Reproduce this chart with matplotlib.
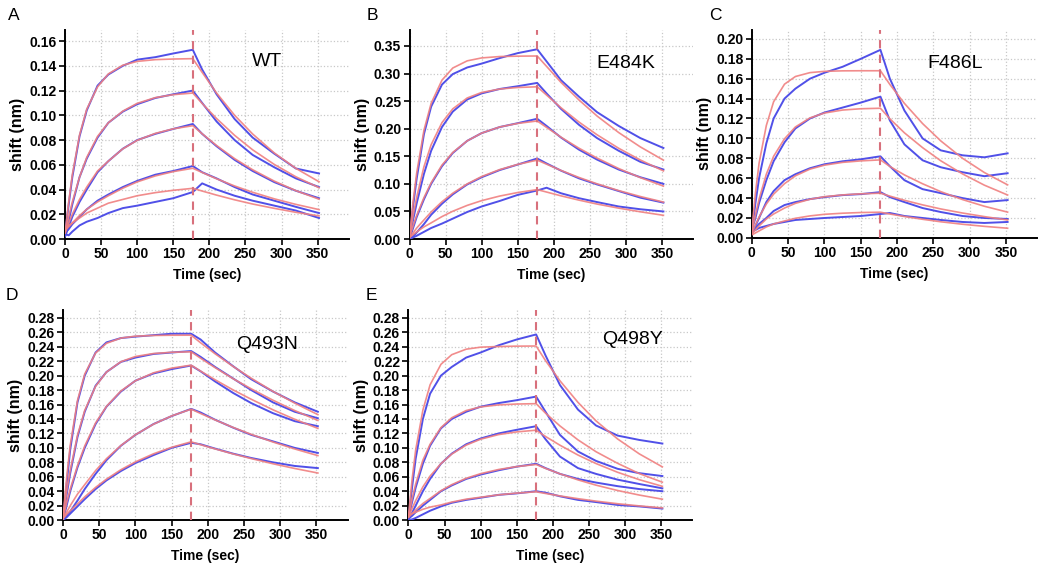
import matplotlib
matplotlib.use('Agg')
import matplotlib.pyplot as plt

plt.rcParams['font.family'] = ['Liberation Sans', 'DejaVu Sans']

# sample times (sec), association ends at 177 s
T = [0, 5, 10, 20, 30, 45, 60, 80, 100, 125, 150, 177, 190, 210, 235, 260, 290, 320, 352]
T_SWITCH = 177

# ---- A: WT
A_BLUE = [
    [0.005, 0.028, 0.050, 0.083, 0.104, 0.124, 0.133, 0.140, 0.145, 0.147, 0.150, 0.153, 0.137, 0.117, 0.097, 0.082, 0.069, 0.057, 0.053],
    [0.003, 0.015, 0.028, 0.050, 0.065, 0.082, 0.094, 0.103, 0.109, 0.114, 0.117, 0.120, 0.110, 0.095, 0.080, 0.068, 0.058, 0.049, 0.042],
    [0.002, 0.010, 0.018, 0.030, 0.040, 0.054, 0.063, 0.073, 0.080, 0.085, 0.089, 0.093, 0.085, 0.075, 0.064, 0.055, 0.046, 0.039, 0.033],
    [0.005, 0.008, 0.012, 0.018, 0.024, 0.031, 0.036, 0.042, 0.047, 0.052, 0.055, 0.059, 0.054, 0.049, 0.042, 0.036, 0.031, 0.026, 0.021],
    [0.004, 0.003, 0.006, 0.011, 0.014, 0.017, 0.021, 0.025, 0.027, 0.030, 0.033, 0.038, 0.045, 0.040, 0.035, 0.031, 0.027, 0.023, 0.017],
]
A_FIT = [
    [0.005, 0.030, 0.052, 0.084, 0.105, 0.123, 0.1335, 0.1405, 0.1436, 0.145, 0.1455, 0.1458, 0.1347, 0.118, 0.100, 0.0849, 0.0696, 0.0571, 0.0463],
    [0.005, 0.018, 0.030, 0.050, 0.066, 0.083, 0.094, 0.1034, 0.1097, 0.1143, 0.1167, 0.118, 0.1096, 0.0974, 0.0838, 0.0721, 0.0603, 0.0503, 0.0415],
    [0.005, 0.013, 0.020, 0.032, 0.042, 0.055, 0.063, 0.0729, 0.0798, 0.0854, 0.0891, 0.0916, 0.0851, 0.0756, 0.065, 0.056, 0.0468, 0.0391, 0.0322],
    [0.007, 0.010, 0.013, 0.019, 0.024, 0.030, 0.035, 0.0411, 0.0462, 0.051, 0.0545, 0.0572, 0.0538, 0.0487, 0.0429, 0.0378, 0.0325, 0.028, 0.0238],
    [0.008, 0.011, 0.013, 0.017, 0.021, 0.025, 0.029, 0.032, 0.035, 0.0375, 0.0394, 0.041, 0.0388, 0.0355, 0.0317, 0.0283, 0.0248, 0.0216, 0.0187],
]

# ---- B: E484K
B_BLUE = [
    [0.000, 0.060, 0.110, 0.190, 0.240, 0.280, 0.299, 0.311, 0.318, 0.328, 0.337, 0.344, 0.322, 0.288, 0.258, 0.230, 0.205, 0.183, 0.165],
    [0.000, 0.035, 0.065, 0.118, 0.160, 0.203, 0.231, 0.253, 0.264, 0.272, 0.277, 0.283, 0.264, 0.236, 0.207, 0.183, 0.160, 0.140, 0.126],
    [0.000, 0.020, 0.040, 0.072, 0.100, 0.132, 0.156, 0.178, 0.192, 0.203, 0.210, 0.218, 0.205, 0.184, 0.162, 0.144, 0.126, 0.112, 0.100],
    [0.000, 0.005, 0.012, 0.027, 0.044, 0.064, 0.081, 0.099, 0.112, 0.125, 0.135, 0.146, 0.137, 0.124, 0.110, 0.099, 0.087, 0.075, 0.066],
    [0.000, 0.003, 0.006, 0.013, 0.020, 0.028, 0.037, 0.049, 0.059, 0.069, 0.080, 0.088, 0.093, 0.083, 0.074, 0.067, 0.059, 0.054, 0.050],
]
B_FIT = [
    [0.003, 0.068, 0.120, 0.197, 0.246, 0.288, 0.310, 0.323, 0.3283, 0.3308, 0.3315, 0.3318, 0.313, 0.284, 0.252, 0.223, 0.193, 0.167, 0.143],
    [0.003, 0.043, 0.076, 0.131, 0.171, 0.211, 0.236, 0.2557, 0.2657, 0.2719, 0.2747, 0.276, 0.261, 0.238, 0.212, 0.189, 0.1645, 0.1433, 0.1235],
    [0.003, 0.024, 0.043, 0.075, 0.102, 0.134, 0.157, 0.178, 0.192, 0.2031, 0.2096, 0.214, 0.2024, 0.1847, 0.1646, 0.1468, 0.1278, 0.1113, 0.096],
    [0.003, 0.011, 0.020, 0.0346, 0.049, 0.0676, 0.0831, 0.100, 0.1133, 0.1259, 0.1353, 0.143, 0.1357, 0.1244, 0.1116, 0.1001, 0.0878, 0.0771, 0.067],
    [0.003, 0.008, 0.013, 0.022, 0.0293, 0.0407, 0.0504, 0.061, 0.0696, 0.0779, 0.0843, 0.0896, 0.0852, 0.0783, 0.0705, 0.0634, 0.056, 0.0494, 0.043],
]

# ---- C: F486L
C_BLUE = [
    [0.005, 0.035, 0.060, 0.095, 0.120, 0.140, 0.150, 0.160, 0.166, 0.172, 0.180, 0.189, 0.160, 0.128, 0.100, 0.088, 0.083, 0.081, 0.085],
    [0.008, 0.020, 0.035, 0.058, 0.077, 0.096, 0.110, 0.120, 0.126, 0.131, 0.136, 0.142, 0.118, 0.094, 0.078, 0.071, 0.066, 0.062, 0.065],
    [0.004, 0.012, 0.020, 0.036, 0.047, 0.058, 0.064, 0.070, 0.074, 0.077, 0.079, 0.082, 0.072, 0.058, 0.049, 0.045, 0.040, 0.036, 0.038],
    [0.006, 0.010, 0.014, 0.020, 0.027, 0.033, 0.036, 0.039, 0.041, 0.043, 0.044, 0.046, 0.041, 0.036, 0.030, 0.026, 0.022, 0.020, 0.019],
    [0.006, 0.008, 0.010, 0.012, 0.014, 0.016, 0.018, 0.019, 0.020, 0.021, 0.022, 0.024, 0.025, 0.022, 0.020, 0.018, 0.016, 0.015, 0.016],
]
C_FIT = [
    [0.008, 0.045, 0.075, 0.113, 0.1368, 0.1545, 0.1622, 0.1661, 0.1674, 0.1679, 0.168, 0.168, 0.1542, 0.1352, 0.1149, 0.0975, 0.080, 0.0657, 0.0533],
    [0.006, 0.023, 0.039, 0.064, 0.082, 0.0996, 0.1115, 0.1206, 0.1255, 0.1285, 0.1298, 0.1303, 0.1197, 0.1056, 0.0907, 0.0775, 0.0643, 0.053, 0.0431],
    [0.005, 0.013, 0.021, 0.034, 0.044, 0.0545, 0.0624, 0.0691, 0.0731, 0.0759, 0.0774, 0.0784, 0.0718, 0.0633, 0.0544, 0.0465, 0.0385, 0.0318, 0.0259],
    [0.004, 0.008, 0.012, 0.019, 0.024, 0.030, 0.0347, 0.0388, 0.0414, 0.0432, 0.0443, 0.0449, 0.042, 0.0378, 0.0332, 0.0291, 0.025, 0.0214, 0.018],
    [0.003, 0.005, 0.007, 0.011, 0.014, 0.017, 0.0197, 0.0221, 0.0237, 0.0248, 0.0255, 0.0258, 0.024, 0.0215, 0.0187, 0.0162, 0.0137, 0.0116, 0.0097],
]

# ---- D: Q493N
D_BLUE = [
    [0.000, 0.050, 0.098, 0.163, 0.200, 0.232, 0.246, 0.252, 0.254, 0.256, 0.258, 0.258, 0.250, 0.232, 0.213, 0.195, 0.178, 0.163, 0.150],
    [0.000, 0.035, 0.065, 0.115, 0.150, 0.186, 0.205, 0.219, 0.225, 0.230, 0.232, 0.234, 0.226, 0.212, 0.196, 0.180, 0.163, 0.150, 0.141],
    [0.000, 0.020, 0.040, 0.073, 0.100, 0.133, 0.157, 0.178, 0.193, 0.203, 0.209, 0.214, 0.206, 0.192, 0.176, 0.162, 0.148, 0.137, 0.130],
    [0.000, 0.006, 0.012, 0.027, 0.043, 0.064, 0.083, 0.103, 0.118, 0.133, 0.144, 0.154, 0.149, 0.139, 0.128, 0.118, 0.109, 0.100, 0.093],
    [0.000, 0.004, 0.009, 0.019, 0.029, 0.043, 0.055, 0.068, 0.079, 0.090, 0.100, 0.107, 0.105, 0.099, 0.092, 0.086, 0.080, 0.075, 0.072],
]
D_FIT = [
    [0.003, 0.0587, 0.1037, 0.1655, 0.2022, 0.2313, 0.2447, 0.252, 0.2546, 0.2556, 0.2559, 0.256, 0.2455, 0.2303, 0.2127, 0.1964, 0.1782, 0.162, 0.146],
    [0.002, 0.040, 0.069, 0.1175, 0.1518, 0.1852, 0.2049, 0.2193, 0.2265, 0.2306, 0.2323, 0.233, 0.2241, 0.2111, 0.1957, 0.1817, 0.166, 0.1517, 0.138],
    [0.002, 0.024, 0.043, 0.0754, 0.1026, 0.1345, 0.1574, 0.1788, 0.1929, 0.2039, 0.2104, 0.2145, 0.2063, 0.1943, 0.1802, 0.1673, 0.1527, 0.1396, 0.127],
    [0.002, 0.011, 0.020, 0.036, 0.0491, 0.0685, 0.085, 0.1033, 0.1182, 0.1328, 0.1442, 0.1536, 0.1476, 0.1387, 0.1283, 0.1187, 0.1081, 0.0985, 0.0893],
    [0.002, 0.008, 0.013, 0.0224, 0.0322, 0.0453, 0.0567, 0.0698, 0.0806, 0.0918, 0.1008, 0.1084, 0.1044, 0.0986, 0.0916, 0.0852, 0.078, 0.0715, 0.0652],
]

# ---- E: Q498Y
E_BLUE = [
    [0.002, 0.045, 0.085, 0.140, 0.175, 0.200, 0.212, 0.225, 0.232, 0.242, 0.250, 0.257, 0.228, 0.187, 0.153, 0.131, 0.117, 0.111, 0.106],
    [0.003, 0.025, 0.045, 0.078, 0.103, 0.127, 0.140, 0.150, 0.157, 0.162, 0.166, 0.171, 0.150, 0.118, 0.095, 0.082, 0.071, 0.065, 0.061],
    [0.001, 0.010, 0.020, 0.040, 0.057, 0.078, 0.092, 0.105, 0.113, 0.120, 0.125, 0.130, 0.112, 0.088, 0.072, 0.064, 0.056, 0.050, 0.044],
    [0.002, 0.006, 0.011, 0.020, 0.028, 0.040, 0.048, 0.057, 0.063, 0.069, 0.074, 0.078, 0.072, 0.064, 0.057, 0.052, 0.047, 0.043, 0.040],
    [0.000, 0.001, 0.003, 0.008, 0.013, 0.019, 0.024, 0.028, 0.031, 0.035, 0.037, 0.040, 0.038, 0.033, 0.028, 0.025, 0.021, 0.019, 0.016],
]
E_FIT = [
    [0.005, 0.056, 0.097, 0.1523, 0.1873, 0.2156, 0.229, 0.2366, 0.2394, 0.2403, 0.2408, 0.241, 0.2208, 0.1929, 0.163, 0.1374, 0.1123, 0.0917, 0.0737],
    [0.005, 0.029, 0.050, 0.083, 0.105, 0.128, 0.1417, 0.1517, 0.1567, 0.1595, 0.1607, 0.1612, 0.1481, 0.1304, 0.1111, 0.0947, 0.0786, 0.0644, 0.0525],
    [0.004, 0.016, 0.027, 0.046, 0.061, 0.0781, 0.0914, 0.1038, 0.112, 0.1184, 0.1221, 0.1245, 0.1158, 0.1037, 0.0901, 0.0783, 0.0662, 0.056, 0.0468],
    [0.004, 0.009, 0.014, 0.023, 0.030, 0.0407, 0.0491, 0.0579, 0.0643, 0.0701, 0.0741, 0.077, 0.0716, 0.0641, 0.0557, 0.0484, 0.041, 0.0347, 0.029],
    [0.007, 0.009, 0.011, 0.015, 0.018, 0.021, 0.025, 0.029, 0.0317, 0.035, 0.0374, 0.0392, 0.0369, 0.0335, 0.0297, 0.0263, 0.0227, 0.0197, 0.0169],
]

PANELS = [
    # letter, title, blue, fit, ymax, ystep, [left, bottom, width, height], title pos
    ('A', 'WT', A_BLUE, A_FIT, 0.169, 0.02, [0.062, 0.585, 0.270, 0.363], (0.66, 0.85)),
    ('B', 'E484K', B_BLUE, B_FIT, 0.379, 0.05, [0.390, 0.585, 0.270, 0.363], (0.66, 0.84)),
    ('C', 'F486L', C_BLUE, C_FIT, 0.209, 0.02, [0.716, 0.587, 0.272, 0.361], (0.615, 0.84)),
    ('D', 'Q493N', D_BLUE, D_FIT, 0.291, 0.02, [0.060, 0.097, 0.271, 0.365], (0.61, 0.833)),
    ('E', 'Q498Y', E_BLUE, E_FIT, 0.291, 0.02, [0.389, 0.097, 0.270, 0.365], (0.683, 0.86)),
]

fig = plt.figure(figsize=(10.5, 5.76), dpi=100)

for letter, title, blue, fit, ymax, ystep, rect, tpos in PANELS:
    ax = fig.add_axes(rect)
    for trace in blue:
        ax.plot(T, trace, color='#5050e8', lw=1.4, zorder=3)
    for curve in fit:
        ax.plot(T, curve, color='#f08080', lw=1.2, alpha=0.9, zorder=4)
    ax.axvline(T_SWITCH, color='#d8707c', lw=1.5, ls=(0, (4, 3)), zorder=5)

    ax.set_xlim(0, 393)
    ax.set_ylim(0, ymax)
    ax.set_xticks(range(0, 351, 50))
    nt = int(round((ymax - 0.005) / ystep))
    yt = [round(i * ystep, 2) for i in range(nt + 1)]
    ax.set_yticks(yt)
    ax.set_yticklabels(['%.2f' % v for v in yt])
    ax.grid(True, color='#c8c8c8', ls=':', lw=0.9)
    ax.set_axisbelow(True)
    for s in ['top', 'right']:
        ax.spines[s].set_visible(False)
    for s in ['left', 'bottom']:
        ax.spines[s].set_linewidth(1.4)
    ax.tick_params(direction='out', length=4, width=1.2, pad=2, labelsize=10)
    for lab in ax.get_xticklabels() + ax.get_yticklabels():
        lab.set_fontweight('bold')
    ax.set_xlabel('Time (sec)', fontsize=10, fontweight='bold', labelpad=5)
    ax.set_ylabel('shift (nm)', fontsize=11.5, fontweight='bold', labelpad=3)
    ax.text(tpos[0], tpos[1], title, transform=ax.transAxes, fontsize=14,
            va='center', ha='left')
    ax.text(-0.2 if letter in 'AD' else -0.15, 1.07, letter, transform=ax.transAxes,
            fontsize=12.5, va='center', ha='left')

fig.savefig('out.png', dpi=100)
